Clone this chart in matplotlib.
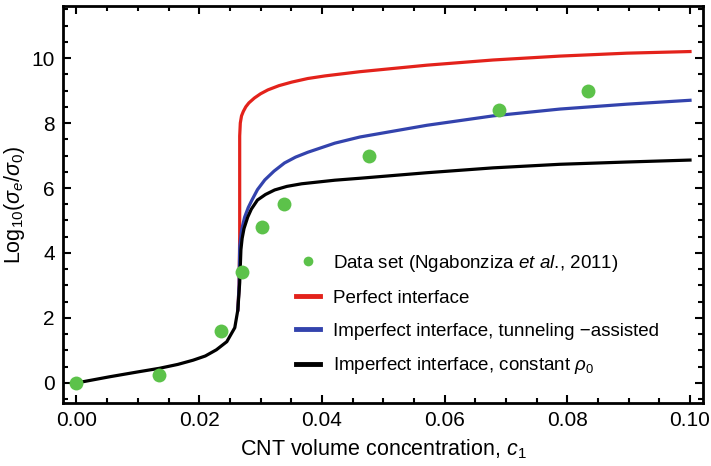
import matplotlib
matplotlib.use("Agg")
import matplotlib.pyplot as plt
from matplotlib.ticker import MultipleLocator

plt.rcParams['font.family'] = ['Liberation Sans', 'DejaVu Sans']
plt.rcParams['mathtext.fontset'] = 'custom'
plt.rcParams['mathtext.rm'] = 'Liberation Sans'
plt.rcParams['mathtext.it'] = 'Liberation Sans:italic'

# measured data (Ngabonziza et al., 2011)
data_c = [0.0, 0.0134, 0.0235, 0.0269, 0.0303, 0.0338, 0.0476, 0.0689, 0.0834]
data_y = [0.0, 0.25, 1.6, 3.4, 4.8, 5.5, 7.0, 8.4, 9.0]

# model curves
black_c = [0.0, 0.0054, 0.0100, 0.0135, 0.0165, 0.019, 0.0210, 0.0228, 0.0245,
           0.0258, 0.0263, 0.0266, 0.0268, 0.0270, 0.0273, 0.0279, 0.0285, 0.0295,
           0.0308, 0.0323, 0.0343, 0.0367, 0.0421, 0.0462, 0.0571, 0.0679, 0.0788,
           0.0897, 0.1]
black_y = [0.0, 0.19, 0.34, 0.45, 0.57, 0.7, 0.83, 1.02, 1.27,
           1.7, 2.25, 3.08, 4.1, 4.45, 4.75, 5.1, 5.35, 5.63,
           5.8, 5.94, 6.05, 6.13, 6.24, 6.3, 6.47, 6.62, 6.73,
           6.8, 6.86]

red_c = [0.0263, 0.0265, 0.0266, 0.0266, 0.0267, 0.0269, 0.0272, 0.0276, 0.0281,
         0.029, 0.030, 0.0312, 0.033, 0.0351, 0.0377, 0.0405, 0.0462, 0.0571,
         0.0679, 0.0788, 0.0897, 0.1]
red_y = [2.25, 3.0, 4.5, 7.6, 8.0, 8.22, 8.36, 8.5, 8.62,
         8.77, 8.9, 9.02, 9.15, 9.26, 9.37, 9.45, 9.58, 9.78,
         9.94, 10.06, 10.15, 10.2]

blue_c = [0.0263, 0.0265, 0.0266, 0.0269, 0.0274, 0.028, 0.0286, 0.0295, 0.0307,
          0.0322, 0.0339, 0.0357, 0.0377, 0.0421, 0.0462, 0.0571, 0.0679, 0.0788,
          0.0897, 0.1]
blue_y = [2.25, 3.0, 4.18, 4.7, 5.1, 5.4, 5.63, 5.95, 6.25,
          6.52, 6.77, 6.95, 7.1, 7.38, 7.57, 7.93, 8.22, 8.43,
          8.58, 8.7]

fig = plt.figure(figsize=(7.11, 4.66), dpi=100)
ax = fig.add_axes([0.0886, 0.135, 0.9, 0.852])

ax.plot(data_c, data_y, 'o', color='#5cc24a', ms=10, mec='none',
        label='Data set (Ngabonziza $\\mathit{et\\ al}$., 2011)', zorder=5)
ax.plot(red_c, red_y, color='#e3221b', lw=2.3, solid_joinstyle='round',
        label='Perfect interface')
ax.plot(blue_c, blue_y, color='#3343ad', lw=2.3, solid_joinstyle='round',
        label='Imperfect interface, tunneling \u2212assisted')
ax.plot(black_c, black_y, color='black', lw=2.3, solid_joinstyle='round',
        label='Imperfect interface, constant $\\rho_0$')

ax.set_xlim(-0.0022, 0.1021)
ax.set_ylim(-0.62, 11.6)
ax.xaxis.set_major_locator(MultipleLocator(0.02))
ax.xaxis.set_minor_locator(MultipleLocator(0.005))
ax.yaxis.set_major_locator(MultipleLocator(2))
ax.yaxis.set_minor_locator(MultipleLocator(0.5))
ax.xaxis.set_major_formatter(plt.FormatStrFormatter('%.2f'))

ax.tick_params(which='both', direction='in', top=True, right=True, width=1.5,
               labelsize=15, colors='black')
ax.tick_params(which='major', length=6)
ax.tick_params(which='minor', length=3.5)
ax.tick_params(axis='y', pad=6)
ax.tick_params(axis='x', pad=6)
for s in ax.spines.values():
    s.set_linewidth(2)

ax.set_xlabel('CNT volume concentration, $c_1$', fontsize=15.5, labelpad=5)
ax.set_ylabel('Log$_{10}$($\\sigma_e/\\sigma_0$)', fontsize=15.5, labelpad=3)

leg = ax.legend(loc='lower left', bbox_to_anchor=(0.338, 0.025), frameon=False,
                fontsize=13.5, handlelength=1.25, handletextpad=0.7,
                labelspacing=0.84, markerscale=0.7)
for h in leg.get_lines()[1:]:
    h.set_linewidth(3.5)

fig.savefig('out.png', dpi=100)
